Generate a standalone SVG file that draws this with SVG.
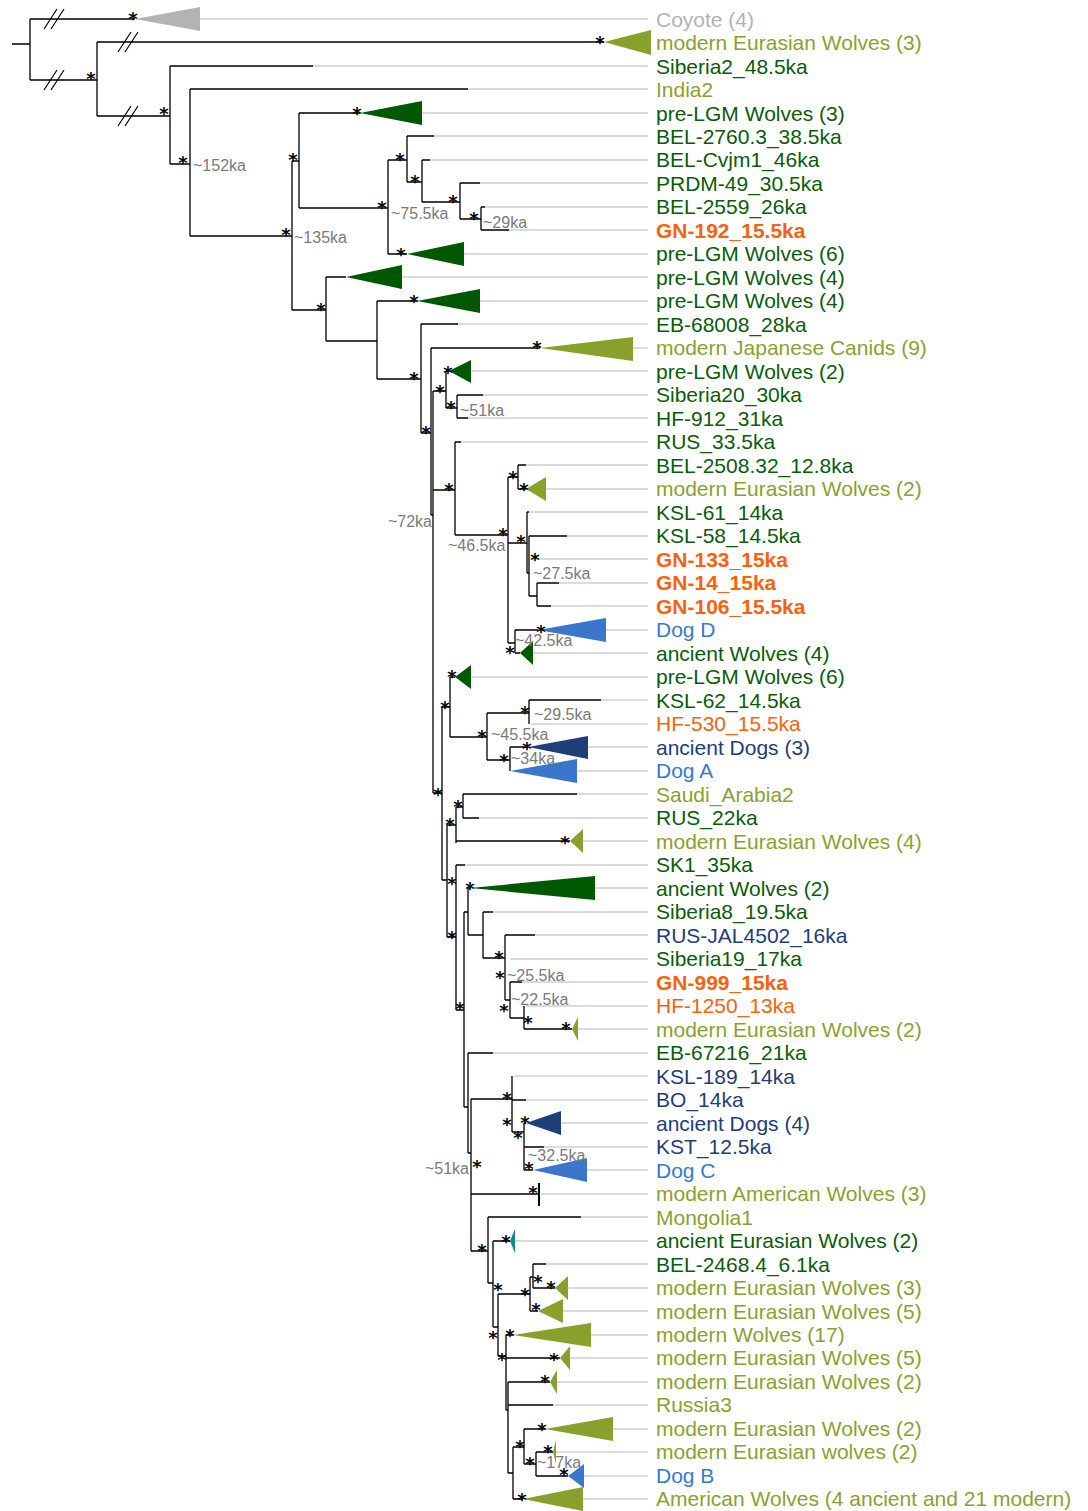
<svg xmlns="http://www.w3.org/2000/svg" width="1088" height="1511" viewBox="0 0 1088 1511">
<style>
.b{stroke:#000;stroke-width:1.3;fill:none}
.g{stroke:#b8b8b8;stroke-width:1.2;fill:none}
.sl{stroke:#000;stroke-width:1.2}
text{font-family:"Liberation Sans",Arial,sans-serif}
.l{font-size:21px}
#support text{font-family:"DejaVu Sans",sans-serif;font-size:18px;font-weight:bold;fill:#000;text-anchor:middle}
.age{font-size:16px;fill:#7a7a7a}
.gy{fill:#b3b3b3}.ol{fill:#8aa12f}.dg{fill:#0a5c0a}.or{fill:#f7620f}.bo{font-weight:bold}.bl{fill:#3a78cf}.nv{fill:#1f3d78}
.tgy{fill:#b3b3b3}.tol{fill:#88a02c}.tdg{fill:#005800}.tbl{fill:#3a76cc}.tnv{fill:#1f3f78}.tte{fill:#138a8a}
</style>
<rect width="1088" height="1511" fill="#fff"/>
<g id="connectors">
<path class="b" d="M12 44H30M30 19V80M30 19H135M30 80H97M97 42V116M97 42H604M97 116H170M170 66V164M170 66H313M170 164H190M190 89V236M190 89H468M190 236H292M292 161V310M292 161H299M299 113V208M299 113H360M299 208H388M388 160V254M388 160H407M407 136V182M407 136H434M407 182H422M422 160V202M422 160H430M422 202H460M460 183V219M460 183H480M460 219H481M481 207V230M481 207H485M481 230H509M388 254H407"/>
<path class="b" d="M292 310H326M326 277V341M326 277H346M326 341H377M377 301V379M377 301H417M377 379H421M421 324V433M421 324H458M421 433H431M431 348V515M431 348H540M431 515H433M433 391V793M433 391H446M446 371V408M446 371H449M446 408H457M457 395V418M457 395H483M457 418H468"/>
<path class="b" d="M433 490H455M455 442V535M455 442H461M455 535H508M508 477V643M508 477H518M518 465V489M518 465H526M518 489H526M508 543H527M527 512V573M527 512H529M527 573H529M529 536V596M529 536H567M529 596H537M537 583V606M537 583H559M537 606H551M508 643H515M515 630V653M515 630H538M515 653H520"/>
<path class="b" d="M433 793H442M442 707V880M442 707H450M450 677V737M450 677H455M450 737H487M487 713V760M487 713H529M529 700V724M529 700H601M487 760H510M510 747V771M510 747H528M442 880H447M447 825V937M447 825H456M456 807V843M456 807H463M463 794V818M463 794H577M463 818H479M456 841H570M447 937H456M456 865V1010M456 865H465M456 1010H464M464 912V1107M464 912H468M468 888V935M468 888H470M468 935H483M483 912V958M483 912H493M483 958H505M505 935V1000M505 935H535M505 1000H510M510 982V1018M510 982H522M510 1018H524M524 1006V1029M524 1029H572"/>
<path class="b" d="M464 1107H468M468 1053V1153M468 1053H493M468 1153H471M471 1099V1251M471 1099H512M512 1076V1132M512 1100H526M512 1132H524M524 1123V1170M524 1123H526M524 1147H544M524 1170H533M471 1194H539M471 1251H488M488 1217V1283M488 1217H581M488 1283H493M493 1241V1327M493 1241H510M493 1327H498M498 1294V1356M498 1294H530M530 1277V1311M530 1277H533M533 1264V1288M533 1264H546M533 1288H555M530 1311H538M498 1356H506M506 1335V1410M506 1335H513M506 1358H560M506 1410H508M508 1382V1473M508 1382H550M508 1405H553M508 1473H513M513 1447V1499M513 1447H524M524 1429V1464M524 1429H545M524 1464H536M536 1452V1476M536 1452H553M536 1476H568M513 1499H523"/>
<path d="M539 1183V1206" stroke="#000" stroke-width="2"/>
<g id="breaks">
<path class="sl" d="M44 29L57 9M51 29L64 9M44 90L57 70M51 90L64 70M118 52L131 32M125 52L138 32M118 126L131 106M125 126L138 106"/>
</g>
</g>
<g id="guides">
<path class="g" d="M200 19H648M313 66H648M468 89H648M422 113H648M434 136H648M430 160H648M480 183H648M485 207H648M509 230H648M464 254H648M402 277H648M480 301H648M458 324H648M633 348H648M471 371H648M483 395H648M468 418H648M461 442H648M526 465H648M546 489H648M529 512H648M567 536H648M531 559H648M559 583H648M551 606H648M606 630H648M533 653H648M471 677H648M601 700H648M531 724H648M588 747H648M577 771H648M577 794H648M479 818H648M583 841H648M465 865H648M595 888H648M493 912H648M535 935H648M510 959H648M522 982H648M526 1006H648M578 1029H648M493 1053H648M514 1076H648M526 1100H648M561 1123H648M544 1147H648M587 1170H648M541 1194H648M581 1217H648M515 1241H648M546 1264H648M568 1288H648M563 1311H648M591 1335H648M570 1358H648M557 1382H648M553 1405H648M613 1429H648M556 1452H648M584 1476H648M583 1499H648"/>
</g>
<g id="clades">
<polygon class="tgy" points="135,19 200,7 200,31"/>
<polygon class="tol" points="604,42 651,30 651,55"/>
<polygon class="tdg" points="360,113 422,101 422,125"/>
<polygon class="tdg" points="407,254 464,242 464,266"/>
<polygon class="tdg" points="346,277 402,265 402,289"/>
<polygon class="tdg" points="417,301 480,289 480,313"/>
<polygon class="tol" points="540,348 633,337 633,361"/>
<polygon class="tdg" points="449,371 471,360 471,383"/>
<polygon class="tol" points="526,489 546,477 546,501"/>
<polygon class="tbl" points="538,630 606,618 606,642"/>
<polygon class="tdg" points="520,653 533,641 533,665"/>
<polygon class="tdg" points="455,677 471,665 471,689"/>
<polygon class="tnv" points="528,747 588,736 588,759"/>
<polygon class="tbl" points="510,771 577,759 577,783"/>
<polygon class="tol" points="570,841 583,829 583,853"/>
<polygon class="tdg" points="470,888 595,876 595,900"/>
<polygon class="tol" points="572,1029 578,1017 578,1041"/>
<polygon class="tnv" points="526,1123 561,1111 561,1135"/>
<polygon class="tbl" points="533,1170 587,1158 587,1182"/>
<polygon class="tte" points="510,1241 515,1229 515,1253"/>
<polygon class="tol" points="555,1288 568,1276 568,1300"/>
<polygon class="tol" points="538,1311 563,1299 563,1323"/>
<polygon class="tol" points="513,1335 591,1323 591,1347"/>
<polygon class="tol" points="560,1358 570,1346 570,1370"/>
<polygon class="tol" points="550,1382 557,1370 557,1394"/>
<polygon class="tol" points="545,1429 613,1417 613,1441"/>
<polygon class="tol" points="553,1452 556,1440 556,1464"/>
<polygon class="tbl" points="568,1476 584,1464 584,1488"/>
<polygon class="tol" points="523,1499 583,1487 583,1511"/>
</g>
<g id="support" transform="translate(0,1)">
<text x="133" y="23.5">*</text><text x="600" y="47.5">*</text><text x="91" y="83.5">*</text><text x="164" y="118.5">*</text><text x="183" y="167.5">*</text><text x="286" y="239.5">*</text><text x="293" y="164.5">*</text><text x="357" y="118.5">*</text><text x="382" y="212.5">*</text><text x="400" y="164.5">*</text><text x="415" y="186.5">*</text><text x="453" y="206.5">*</text><text x="474" y="223.5">*</text><text x="401" y="259.5">*</text><text x="321" y="314.5">*</text><text x="414" y="306.5">*</text><text x="414" y="383.5">*</text><text x="426" y="437.5">*</text><text x="537" y="352.5">*</text><text x="448" y="377.5">*</text><text x="440" y="396.5">*</text><text x="451" y="412.5">*</text><text x="449" y="494.5">*</text><text x="513" y="482.5">*</text><text x="524" y="494.5">*</text><text x="503" y="539.5">*</text><text x="521" y="546.5">*</text><text x="535" y="564.5">*</text><text x="541" y="636.5">*</text><text x="510" y="657.5">*</text><text x="452" y="681.5">*</text><text x="445" y="712.5">*</text><text x="482" y="741.5">*</text><text x="525" y="717.5">*</text><text x="504" y="765.5">*</text><text x="527" y="753.5">*</text><text x="438" y="799.5">*</text><text x="450" y="829.5">*</text><text x="458" y="811.5">*</text><text x="565" y="847.5">*</text><text x="452" y="888.5">*</text><text x="470" y="893.5">*</text><text x="452" y="942.5">*</text><text x="499" y="962.5">*</text><text x="500" y="982.5">*</text><text x="504" y="1015.5">*</text><text x="528" y="1027.5">*</text><text x="566" y="1033.5">*</text><text x="460" y="1013.5">*</text><text x="507" y="1103.5">*</text><text x="507" y="1129.5">*</text><text x="518" y="1142.5">*</text><text x="525" y="1127.5">*</text><text x="529" y="1173.5">*</text><text x="477" y="1171.5">*</text><text x="533" y="1197.5">*</text><text x="482" y="1255.5">*</text><text x="506" y="1246.5">*</text><text x="498" y="1294.5">*</text><text x="525" y="1299.5">*</text><text x="538" y="1286.5">*</text><text x="551" y="1292.5">*</text><text x="536" y="1314.5">*</text><text x="510" y="1340.5">*</text><text x="493" y="1342.5">*</text><text x="502" y="1364.5">*</text><text x="554" y="1364.5">*</text><text x="545" y="1386.5">*</text><text x="520" y="1451.5">*</text><text x="542" y="1434.5">*</text><text x="530" y="1468.5">*</text><text x="548" y="1456.5">*</text><text x="564" y="1479.5">*</text><text x="522" y="1504.5">*</text>
</g>
<g id="ages">
<text class="age" x="193" y="171">~152ka</text>
<text class="age" x="294" y="243">~135ka</text>
<text class="age" x="391" y="219">~75.5ka</text>
<text class="age" x="483" y="228">~29ka</text>
<text class="age" x="460" y="416">~51ka</text>
<text class="age" x="432" y="527" text-anchor="end">~72ka</text>
<text class="age" x="448" y="551">~46.5ka</text>
<text class="age" x="533" y="579">~27.5ka</text>
<text class="age" x="515" y="646">~42.5ka</text>
<text class="age" x="534" y="720">~29.5ka</text>
<text class="age" x="491" y="740">~45.5ka</text>
<text class="age" x="511" y="764">~34ka</text>
<text class="age" x="507" y="981">~25.5ka</text>
<text class="age" x="511" y="1005">~22.5ka</text>
<text class="age" x="469" y="1174" text-anchor="end">~51ka</text>
<text class="age" x="528" y="1161">~32.5ka</text>
<text class="age" x="537" y="1468">~17ka</text>
</g>
<g id="labels" class="l">
<g id="n1"><text class="gy" x="656" y="26.5">Coyote (4)</text></g>
<g id="n2"><text class="ol" x="656" y="50">modern Eurasian Wolves (3)</text></g>
<g id="n3"><text class="dg" x="656" y="73.5">Siberia2_48.5ka</text></g>
<g id="n4"><text class="ol" x="656" y="97">India2</text></g>
<g id="n5"><text class="dg" x="656" y="120.5">pre-LGM Wolves (3)</text></g>
<g id="n6"><text class="dg" x="656" y="143.9">BEL-2760.3_38.5ka</text></g>
<g id="n7"><text class="dg" x="656" y="167.4">BEL-Cvjm1_46ka</text></g>
<g id="n8"><text class="dg" x="656" y="190.9">PRDM-49_30.5ka</text></g>
<g id="n9"><text class="dg" x="656" y="214.4">BEL-2559_26ka</text></g>
<g id="n10"><text class="or bo" x="656" y="237.9">GN-192_15.5ka</text></g>
<g id="n11"><text class="dg" x="656" y="261.4">pre-LGM Wolves (6)</text></g>
<g id="n12"><text class="dg" x="656" y="284.9">pre-LGM Wolves (4)</text></g>
<g id="n13"><text class="dg" x="656" y="308.4">pre-LGM Wolves (4)</text></g>
<g id="n14"><text class="dg" x="656" y="331.9">EB-68008_28ka</text></g>
<g id="n15"><text class="ol" x="656" y="355.4">modern Japanese Canids (9)</text></g>
<g id="n16"><text class="dg" x="656" y="378.9">pre-LGM Wolves (2)</text></g>
<g id="n17"><text class="dg" x="656" y="402.3">Siberia20_30ka</text></g>
<g id="n18"><text class="dg" x="656" y="425.8">HF-912_31ka</text></g>
<g id="n19"><text class="dg" x="656" y="449.3">RUS_33.5ka</text></g>
<g id="n20"><text class="dg" x="656" y="472.8">BEL-2508.32_12.8ka</text></g>
<g id="n21"><text class="ol" x="656" y="496.3">modern Eurasian Wolves (2)</text></g>
<g id="n22"><text class="dg" x="656" y="519.8">KSL-61_14ka</text></g>
<g id="n23"><text class="dg" x="656" y="543.3">KSL-58_14.5ka</text></g>
<g id="n24"><text class="or bo" x="656" y="566.8">GN-133_15ka</text></g>
<g id="n25"><text class="or bo" x="656" y="590.3">GN-14_15ka</text></g>
<g id="n26"><text class="or bo" x="656" y="613.8">GN-106_15.5ka</text></g>
<g id="n27"><text class="bl" x="656" y="637.2">Dog D</text></g>
<g id="n28"><text class="dg" x="656" y="660.7">ancient Wolves (4)</text></g>
<g id="n29"><text class="dg" x="656" y="684.2">pre-LGM Wolves (6)</text></g>
<g id="n30"><text class="dg" x="656" y="707.7">KSL-62_14.5ka</text></g>
<g id="n31"><text class="or" x="656" y="731.2">HF-530_15.5ka</text></g>
<g id="n32"><text class="nv" x="656" y="754.7">ancient Dogs (3)</text></g>
<g id="n33"><text class="bl" x="656" y="778.2">Dog A</text></g>
<g id="n34"><text class="ol" x="656" y="801.7">Saudi_Arabia2</text></g>
<g id="n35"><text class="dg" x="656" y="825.2">RUS_22ka</text></g>
<g id="n36"><text class="ol" x="656" y="848.6">modern Eurasian Wolves (4)</text></g>
<g id="n37"><text class="dg" x="656" y="872.1">SK1_35ka</text></g>
<g id="n38"><text class="dg" x="656" y="895.6">ancient Wolves (2)</text></g>
<g id="n39"><text class="dg" x="656" y="919.1">Siberia8_19.5ka</text></g>
<g id="n40"><text class="nv" x="656" y="942.6">RUS-JAL4502_16ka</text></g>
<g id="n41"><text class="dg" x="656" y="966.1">Siberia19_17ka</text></g>
<g id="n42"><text class="or bo" x="656" y="989.6">GN-999_15ka</text></g>
<g id="n43"><text class="or" x="656" y="1013.1">HF-1250_13ka</text></g>
<g id="n44"><text class="ol" x="656" y="1036.6">modern Eurasian Wolves (2)</text></g>
<g id="n45"><text class="dg" x="656" y="1060.1">EB-67216_21ka</text></g>
<g id="n46"><text class="nv" x="656" y="1083.6">KSL-189_14ka</text></g>
<g id="n47"><text class="nv" x="656" y="1107">BO_14ka</text></g>
<g id="n48"><text class="nv" x="656" y="1130.5">ancient Dogs (4)</text></g>
<g id="n49"><text class="nv" x="656" y="1154">KST_12.5ka</text></g>
<g id="n50"><text class="bl" x="656" y="1177.5">Dog C</text></g>
<g id="n51"><text class="ol" x="656" y="1201">modern American Wolves (3)</text></g>
<g id="n52"><text class="ol" x="656" y="1224.5">Mongolia1</text></g>
<g id="n53"><text class="dg" x="656" y="1248">ancient Eurasian Wolves (2)</text></g>
<g id="n54"><text class="dg" x="656" y="1271.5">BEL-2468.4_6.1ka</text></g>
<g id="n55"><text class="ol" x="656" y="1295">modern Eurasian Wolves (3)</text></g>
<g id="n56"><text class="ol" x="656" y="1318.5">modern Eurasian Wolves (5)</text></g>
<g id="n57"><text class="ol" x="656" y="1342">modern Wolves (17)</text></g>
<g id="n58"><text class="ol" x="656" y="1365.4">modern Eurasian Wolves (5)</text></g>
<g id="n59"><text class="ol" x="656" y="1388.9">modern Eurasian Wolves (2)</text></g>
<g id="n60"><text class="ol" x="656" y="1412.4">Russia3</text></g>
<g id="n61"><text class="ol" x="656" y="1435.9">modern Eurasian Wolves (2)</text></g>
<g id="n62"><text class="ol" x="656" y="1459.4">modern Eurasian wolves (2)</text></g>
<g id="n63"><text class="bl" x="656" y="1482.9">Dog B</text></g>
<g id="n64"><text class="ol" x="656" y="1506.4">American Wolves (4 ancient and 21 modern)</text></g>
</g>
</svg>
